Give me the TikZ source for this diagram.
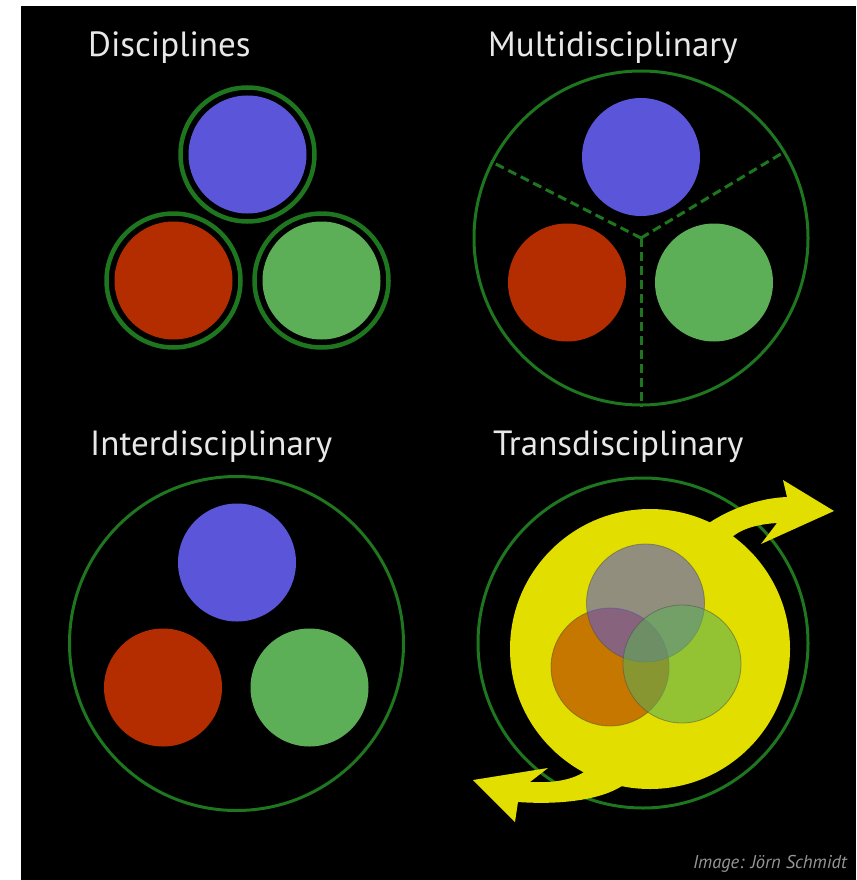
\documentclass[tikz,border=0pt]{standalone}
\usepackage{fontspec}
\setmainfont{PT Sans}
\usetikzlibrary{positioning}

\definecolor{discblue}{RGB}{90,85,217}
\definecolor{discred}{RGB}{179,45,0}
\definecolor{discgreen}{RGB}{92,174,87}
\definecolor{ringgreen}{RGB}{30,118,30}
\definecolor{sunyellow}{RGB}{225,222,0}
\definecolor{titlegray}{RGB}{232,232,232}
\definecolor{creditgray}{RGB}{150,150,150}

\begin{document}
\begin{tikzpicture}[x=1pt,y=-1pt,on grid,
    title/.style={anchor=base west,inner sep=0pt,text=titlegray,font=\fontsize{35}{42}\selectfont},
    disc/.style={circle,inner sep=0pt,minimum size=118pt,fill=#1},
    venn/.style={circle,inner sep=0pt,minimum size=118pt,fill=#1,fill opacity=0.58,draw=black!70,draw opacity=0.5,line width=0.8pt},
    ring/.style={circle,inner sep=0pt,draw=ringgreen,line width=3pt,minimum size=334pt},
    divider/.style={draw=ringgreen,line width=3pt,dash pattern=on 9pt off 5pt},
    swirl/.style={fill=sunyellow}]
  % backdrop
  \fill[white] (0,0) rectangle (856,880);
  \fill[black] (21,6) rectangle (856,880);

  % Disciplines
  \node[title] (t-disc) at (88,57) {Disciplines};
  \node[disc=discblue] (d-blue) at (247.5,154.5) {};
  \node[disc=discred] (d-red) [below left=126pt and 74pt of d-blue] {};
  \node[disc=discgreen] (d-green) [below right=126pt and 74pt of d-blue] {};
  \foreach \n in {d-blue,d-red,d-green}
    \node[ring,line width=4.5pt,minimum size=134pt] (\n-ring) at (\n) {};

  % Multidisciplinary
  \node[title] (t-multi) at (488,57) {Multidisciplinary};
  \node[ring] (m-ring) at (641,238) {};
  \draw[divider] (m-ring.center) -- (m-ring.153);
  \draw[divider] (m-ring.center) -- (m-ring.31);
  \draw[divider] (m-ring.center) -- (m-ring.270);
  \node[disc=discblue] (m-blue) at (641,157) {};
  \node[disc=discred] (m-red) [below left=125.5pt and 74pt of m-blue] {};
  \node[disc=discgreen] (m-green) [below right=125.5pt and 73pt of m-blue] {};

  % Interdisciplinary
  \node[title] (t-inter) at (90,455) {Interdisciplinary};
  \node[ring] (i-ring) at (236.5,643.5) {};
  \node[disc=discblue] (i-blue) at (237,562.5) {};
  \node[disc=discred] (i-red) [below left=125pt and 74pt of i-blue] {};
  \node[disc=discgreen] (i-green) [below right=125pt and 72.5pt of i-blue] {};

  % Transdisciplinary
  \node[title] (t-trans) at (493,455) {Transdisciplinary};
  \node[ring,minimum size=330pt] (tr-ring) at (643,643) {};
  \node[circle,inner sep=0pt,minimum size=280pt,fill=sunyellow] (tr-core) at (650,649) {};
  \path[swirl] (709,523) .. controls (728,510) and (758,498) .. (787,497)
    -- (783,480) -- (834,511) -- (761,544) -- (777,523)
    .. controls (760,524) and (740,528) .. (729,540) -- cycle;
  \path[swirl] (584,772) .. controls (570,781) and (550,783) .. (530,782)
    -- (548,768) -- (473,780) -- (515,822) -- (518,802)
    .. controls (560,805) and (600,800) .. (622,786) -- cycle;
  \node[venn=discred] (tr-red) at (610,667) {};
  \node[venn=discblue] (tr-blue) [above right=64pt and 35.5pt of tr-red] {};
  \node[venn=discgreen] (tr-green) [above right=3pt and 72pt of tr-red] {};

  \node[anchor=base east,inner sep=0pt,text=creditgray,font=\fontsize{18.5}{22}\selectfont\itshape] (credit) at (847,868) {Image: Jörn Schmidt};
\end{tikzpicture}
\end{document}
